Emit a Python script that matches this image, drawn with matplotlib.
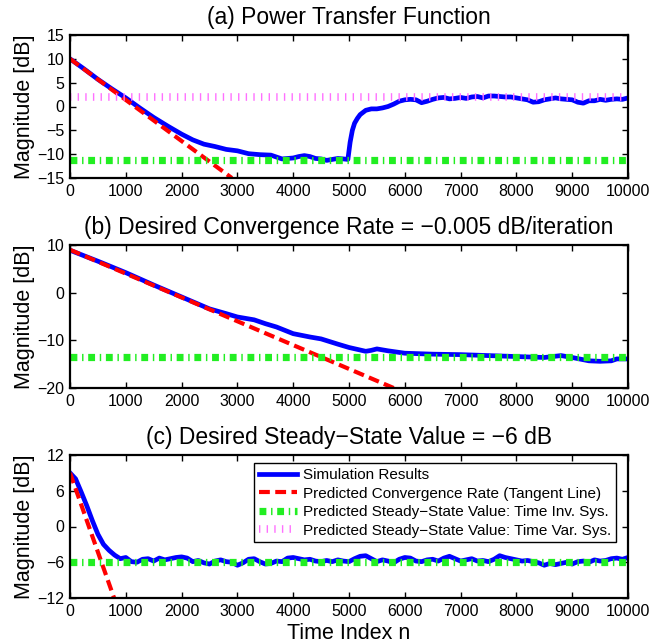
import numpy as np
import matplotlib
matplotlib.use("Agg")
import matplotlib.pyplot as plt

plt.rcParams['font.family'] = ['Liberation Sans', 'DejaVu Sans']

# ---- data ----
# (a) power transfer function
a_n = [0, 250, 500, 750, 1000, 1250, 1500, 1750, 2000, 2200, 2400, 2600, 2800,
       3000, 3200, 3400, 3600, 3700, 3800, 3900, 4000, 4100, 4200, 4300, 4400,
       4500, 4600, 4700, 4800, 4900, 4980, 5020, 5060, 5100, 5150, 5200, 5300,
       5400, 5500, 5600, 5700, 5800, 5900, 6000, 6100, 6200, 6300, 6400, 6500,
       6600, 6700, 6800, 6900, 7000, 7100, 7200, 7300, 7400, 7500, 7600, 7700,
       7800, 7900, 8000, 8100, 8200, 8300, 8400, 8500, 8600, 8700, 8800, 8900,
       9000, 9100, 9200, 9300, 9400, 9500, 9600, 9700, 9800, 9900, 10000]
a_sim = [10.0, 7.9, 5.7, 3.7, 1.8, -0.3, -2.3, -4.1, -5.8, -7.0, -7.9, -8.4, -9.0,
         -9.3, -9.9, -10.1, -10.2, -10.6, -11.0, -10.9, -10.8, -10.5, -10.3, -10.5, -10.9,
         -11.0, -11.3, -11.1, -10.9, -11.0, -11.1, -7.5, -5.0, -3.5, -2.5, -1.7, -0.8,
         -0.5, -0.5, -0.3, 0.0, 0.5, 1.1, 1.4, 1.5, 1.4, 0.8, 1.1, 1.5,
         1.8, 1.9, 1.6, 1.7, 1.9, 1.7, 2.0, 2.1, 1.8, 2.2, 2.2, 2.1,
         2.0, 2.0, 1.8, 1.6, 1.4, 0.9, 1.0, 1.4, 1.6, 1.8, 1.6, 1.5,
         1.4, 0.9, 0.7, 1.2, 1.2, 1.5, 1.3, 1.5, 1.6, 1.5, 1.8]
a_tan = [10.0, -15.0]
a_tan_n = [0, 2900]
a_ss_inv = -11.2
a_ss_var = 2.0

# (b) desired convergence rate
b_n = [0, 500, 1000, 1500, 2000, 2500, 2800, 3000, 3300, 3500, 3700, 4000, 4300,
       4500, 4800, 5000, 5300, 5400, 5500, 5600, 5700, 6000, 6500, 7000, 7500,
       8000, 8500, 8800, 9000, 9300, 9500, 9700, 9800, 10000]
b_sim = [8.9, 6.6, 4.2, 1.6, -0.9, -3.4, -4.4, -5.1, -5.7, -6.5, -7.2, -8.6, -9.3,
         -9.7, -10.8, -11.5, -12.3, -12.1, -11.8, -12.0, -12.2, -12.7, -12.9, -13.0, -13.2,
         -13.4, -13.6, -13.2, -13.6, -14.3, -14.4, -14.3, -13.9, -13.9]
b_tan = [9.0, -20.0]
b_tan_n = [0, 5800]
b_ss_inv = -13.5

# (c) desired steady-state value
c_n = list(range(0, 10001, 100))
c_sim = [9.0, 8.0, 5.8, 3.5, 1.0, -1.3, -3.0, -4.0, -4.8, -5.4,
         -5.2, -5.9, -6.0, -5.5, -5.4, -5.8, -5.3, -5.6, -5.4, -5.2,
         -5.1, -5.3, -5.9, -5.7, -6.1, -6.3, -5.8, -5.6, -5.9, -6.0,
         -6.5, -6.1, -5.5, -5.4, -5.9, -6.3, -6.2, -5.8, -5.9, -5.3,
         -5.2, -5.4, -5.6, -5.5, -5.8, -5.9, -5.7, -5.9, -5.6, -5.8,
         -5.9, -5.4, -5.0, -4.9, -5.4, -5.9, -5.6, -5.8, -6.1, -5.5,
         -5.2, -5.3, -5.8, -5.9, -5.6, -5.5, -5.8, -5.3, -5.0, -5.4,
         -5.8, -5.6, -5.4, -5.8, -5.7, -5.9, -5.5, -4.9, -5.2, -5.4,
         -5.6, -5.8, -5.7, -5.9, -6.1, -6.5, -6.2, -6.4, -6.2, -6.0,
         -6.3, -5.9, -5.8, -6.0, -5.6, -5.8, -5.7, -5.4, -5.3, -5.5, -5.2]
c_tan = [9.0, -12.0]
c_tan_n = [0, 790]
c_ss_inv = -6.0

titles = ["(a) Power Transfer Function",
          "(b) Desired Convergence Rate = \u22120.005 dB/iteration",
          "(c) Desired Steady\u2212State Value = \u22126 dB"]
yticks = [[-15, -10, -5, 0, 5, 10, 15], [-20, -10, 0, 10], [-12, -6, 0, 6, 12]]
xticks = list(range(0, 10001, 1000))
labels = ["Simulation Results",
          "Predicted Convergence Rate (Tangent Line)",
          "Predicted Steady\u2212State Value: Time Inv. Sys.",
          "Predicted Steady\u2212State Value: Time Var. Sys."]

fig = plt.figure(figsize=(6.71, 6.44), dpi=100)
W, H = 671, 644
boxes = [(35, 178), (245, 388), (455, 598)]
axes = []
for top, bot in boxes:
    axes.append(fig.add_axes([70 / W, 1 - bot / H, 558 / W, (bot - top) / H]))

panels = [(a_n, a_sim, a_tan_n, a_tan, a_ss_inv),
          (b_n, b_sim, b_tan_n, b_tan, b_ss_inv),
          (c_n, c_sim, c_tan_n, c_tan, c_ss_inv)]

for i, (ax, (n, sim, tn, tan, ss)) in enumerate(zip(axes, panels)):
    ax.plot(n, sim, color='#0000ff', lw=3.4, solid_joinstyle='round', label=labels[0])
    ax.plot(tn, tan, color='#ff0000', lw=3, dashes=(2.6, 1.3), label=labels[1])
    ax.plot([0, 10000], [ss, ss], color='#22ee22', lw=5.2,
            dashes=(0.95, 0.65, 0.2, 0.65), label=labels[2])
    if i == 0:
        ax.plot([0, 10000], [a_ss_var, a_ss_var], color='#ff70ff', lw=5.5,
                dashes=(0.18, 0.82), label=labels[3])
    ax.set_xlim(0, 10000)
    ax.set_ylim(yticks[i][0], yticks[i][-1])
    ax.set_xticks(xticks)
    ax.set_yticks(yticks[i])
    ax.set_yticklabels([str(v).replace('-', '\u2212') for v in yticks[i]])
    ax.tick_params(direction='in', length=4, width=1, labelsize=11.5,
                   top=True, right=True, pad=4)
    for s in ax.spines.values():
        s.set_linewidth(1.6)
    ax.set_title(titles[i], fontsize=16.5, pad=8)
    ax.set_ylabel("Magnitude [dB]", fontsize=15.5, labelpad=2)

# legend lives in panel (c) but lists all four series
h = axes[0].get_lines()
leg = axes[2].legend(h, labels, loc='upper right', fontsize=11,
                     frameon=True, fancybox=False, framealpha=1,
                     edgecolor='black', handlelength=2.5, handletextpad=0.4,
                     labelspacing=0.3, borderpad=0.3,
                     bbox_to_anchor=(0.992, 0.995))
leg.get_frame().set_linewidth(1.0)
axes[2].set_xlabel("Time Index n", fontsize=15.5, labelpad=3)

fig.savefig("out.png", dpi=100)
